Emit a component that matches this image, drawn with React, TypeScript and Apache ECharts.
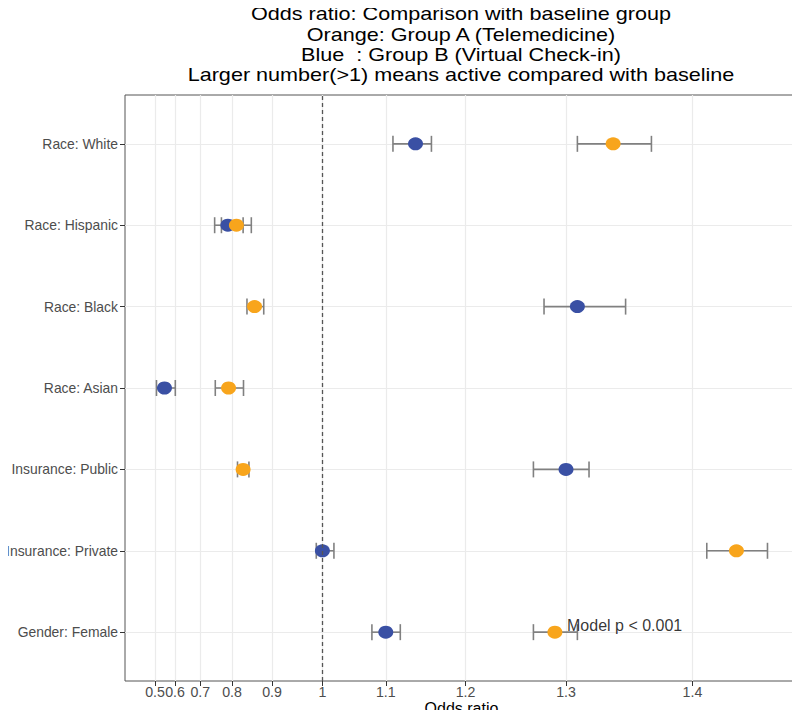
import React, { useEffect, useRef } from "react";
import * as echarts from "echarts";

// ---- Data (top row first) ----
const categories = [
  "Race: White",
  "Race: Hispanic",
  "Race: Black",
  "Race: Asian",
  "Insurance: Public",
  "Insurance: Private",
  "Gender: Female",
];
// Orange: Group A (Telemedicine)
const groupAEst = [1.34, 0.812, 0.859, 0.79, 0.83, 1.43, 1.29];
const groupALo = [1.31, 0.769, 0.84, 0.75, 0.815, 1.41, 1.27];
const groupAHi = [1.37, 0.851, 0.881, 0.831, 0.845, 1.45, 1.31];
// Blue: Group B (Virtual Check-in)
const groupBEst = [1.14, 0.788, 1.31, 0.55, 1.3, 1.0, 1.1];
const groupBLo = [1.11, 0.748, 1.28, 0.508, 1.27, 0.989, 1.08];
const groupBHi = [1.16, 0.83, 1.35, 0.601, 1.32, 1.02, 1.12];

const xTicks = [0.5, 0.6, 0.7, 0.8, 0.9, 1, 1.1, 1.2, 1.3, 1.4];
const xMinRaw = 0.2867;
const xMaxRaw = 1.4688;
const refLine = 1;

const titleLines = [
  "Odds ratio: Comparison with baseline group",
  "Orange: Group A (Telemedicine)",
  "Blue  : Group B (Virtual Check-in)",
  "Larger number(>1) means active compared with baseline",
];
const annotationText = "Model p < 0.001";
const annotationX = 1.3;
const annotationRow = "Gender: Female";

// ---- helpers ----
const tf = (x: number) => Math.pow(10, x); // exp10 axis transform
const n = categories.length;
const rowY = (i: number) => n - 1 - i;
const FONT = "'Liberation Sans', Arial, sans-serif";

export default function App() {
  const ref = useRef<HTMLDivElement>(null);
  useEffect(() => {
    if (!ref.current) return;
    const chart = echarts.init(ref.current, undefined, { renderer: "svg" });

    const barData = (lo: number[], hi: number[]) =>
      lo.map((l, i) => [tf(l), tf(hi[i]), rowY(i)]);
    const pointData = (est: number[]) => est.map((e, i) => [tf(e), rowY(i)]);

    const errColor = "#808080";
    const renderErr = (params: any, api: any) => {
      const y = api.value(2);
      const p1 = api.coord([api.value(0), y]);
      const p2 = api.coord([api.value(1), y]);
      const h = 8;
      const style = { stroke: errColor, lineWidth: 1.6 };
      return {
        type: "group",
        children: [
          { type: "line", shape: { x1: p1[0], y1: p1[1], x2: p2[0], y2: p2[1] }, style },
          { type: "line", shape: { x1: p1[0], y1: p1[1] - h, x2: p1[0], y2: p1[1] + h }, style },
          { type: "line", shape: { x1: p2[0], y1: p2[1] - h, x2: p2[0], y2: p2[1] + h }, style },
        ],
      };
    };

    const option: any = {
      animation: false,
      backgroundColor: "#ffffff",
      grid: {
        left: 125,
        right: 2,
        top: 95,
        bottom: 37,
        show: true,
        borderColor: "#555555",
        borderWidth: 1,
        backgroundColor: "transparent",
        outerBoundsMode: "none",
        containLabel: false,
      },
      graphic: [
        {
          type: "text",
          x: 461,
          y: 4,
          scaleX: 1.2,
          style: {
            text: titleLines.join("\n"),
            fontSize: 18,
            lineHeight: 20.3,
            fontFamily: FONT,
            fill: "#000000",
            textAlign: "center",
            textVerticalAlign: "top",
          },
        },
      ],
      xAxis: {
        type: "value",
        min: tf(xMinRaw),
        max: tf(xMaxRaw),
        name: "Odds ratio",
        nameLocation: "middle",
        nameGap: 21,
        nameMoveOverlap: false,
        nameTextStyle: { fontSize: 16, lineHeight: 13, color: "#000", fontFamily: FONT },
        axisLine: { show: false, onZero: false },
        axisTick: { show: true, length: 5, lineStyle: { color: "#333" }, customValues: xTicks.map(tf) },
        axisLabel: {
          customValues: xTicks.map(tf),
          margin: 4,
          fontSize: 14.2,
          lineHeight: 13,
          color: "#4d4d4d",
          fontFamily: FONT,
          formatter: (v: number) => String(Math.round(Math.log10(v) * 10) / 10),
        },
        splitLine: { show: true, lineStyle: { color: "#ebebeb", width: 1.2 } },
      },
      yAxis: {
        type: "value",
        min: -0.6,
        max: n - 1 + 0.6,
        axisLine: { show: false, onZero: false },
        axisTick: { show: true, length: 5, lineStyle: { color: "#333" }, customValues: categories.map((_, i) => i) },
        axisLabel: {
          customValues: categories.map((_, i) => i),
          margin: 7,
          fontSize: 13.9,
          color: "#4d4d4d",
          fontFamily: FONT,
          formatter: (v: number) => categories[n - 1 - Math.round(v)],
        },
        splitLine: { show: true, lineStyle: { color: "#ebebeb", width: 1.2 } },
      },
      series: [
        {
          type: "custom",
          name: "errA",
          renderItem: renderErr,
          encode: { x: [0, 1], y: 2 },
          data: barData(groupALo, groupAHi),
          z: 2,
          markLine: {
            silent: true,
            symbol: ["none", "none"],
            label: { show: false },
            lineStyle: { type: [4, 3], color: "#555555", width: 1.3 },
            data: [{ xAxis: tf(refLine) }],
          },
        },
        {
          type: "custom",
          name: "errB",
          renderItem: renderErr,
          encode: { x: [0, 1], y: 2 },
          data: barData(groupBLo, groupBHi),
          z: 2,
        },
        {
          type: "scatter",
          name: "Group B",
          data: pointData(groupBEst),
          symbol: "circle",
          symbolSize: [15, 13],
          itemStyle: { color: "#3a50a4", opacity: 1 },
          z: 3,
        },
        {
          type: "scatter",
          name: "Group A",
          data: pointData(groupAEst),
          symbol: "circle",
          symbolSize: [15, 13],
          itemStyle: { color: "#f8a51c", opacity: 1 },
          z: 4,
        },
        {
          type: "scatter",
          name: "annotation",
          data: [[tf(annotationX), rowY(categories.indexOf(annotationRow))]],
          symbolSize: 0,
          silent: true,
          z: 5,
          label: {
            show: true,
            position: "right",
            distance: 1,
            offset: [0, -7],
            formatter: annotationText,
            fontSize: 16,
            color: "#000",
            fontFamily: FONT,
          },
        },
      ],
    };
    chart.setOption(option);
    return () => chart.dispose();
  }, []);
  return <div ref={ref} style={{ width: 800, height: 718, margin: -8 }} />;
}
